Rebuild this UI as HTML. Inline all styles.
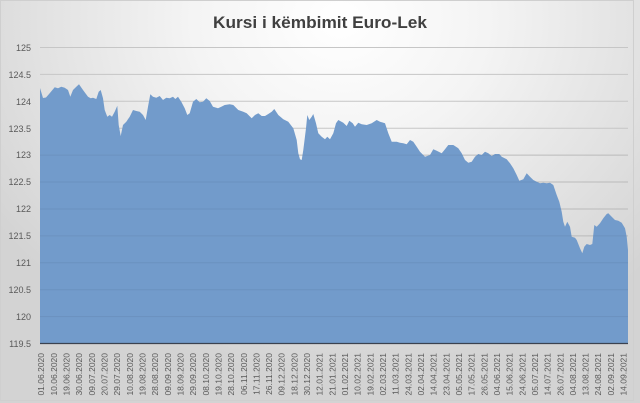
<!DOCTYPE html>
<html><head><meta charset="utf-8">
<style>
html,body{margin:0;padding:0;width:640px;height:403px;overflow:hidden;background:#fff}
svg{display:block}
</style></head>
<body>
<svg width="640" height="403" viewBox="0 0 640 403" xmlns="http://www.w3.org/2000/svg">
<defs>
<radialGradient id="bg" cx="340" cy="20" r="420" gradientUnits="userSpaceOnUse" gradientTransform="translate(340 20) scale(1 0.85) translate(-340 -20)">
<stop offset="0" stop-color="#ffffff"/>
<stop offset="0.35" stop-color="#f4f4f4"/>
<stop offset="0.75" stop-color="#e0e0e0"/>
<stop offset="1" stop-color="#d3d3d3"/>
</radialGradient>
</defs>
<rect x="0" y="0" width="640" height="403" fill="url(#bg)"/>
<rect x="0.5" y="0.5" width="633" height="400" fill="none" stroke="#cfcfcf" stroke-width="1"/>
<text x="320" y="28" text-anchor="middle" font-family="Liberation Sans, sans-serif" font-weight="bold" font-size="17" fill="#404040" textLength="214" lengthAdjust="spacingAndGlyphs">Kursi i këmbimit Euro-Lek</text>
<g stroke="#c6c6c6" stroke-width="1">
<line x1="40" x2="628" y1="47.5" y2="47.5"/>
<line x1="40" x2="628" y1="74.4" y2="74.4"/>
<line x1="40" x2="628" y1="101.3" y2="101.3"/>
<line x1="40" x2="628" y1="128.2" y2="128.2"/>
<line x1="40" x2="628" y1="155.1" y2="155.1"/>
<line x1="40" x2="628" y1="182" y2="182"/>
<line x1="40" x2="628" y1="209" y2="209"/>
<line x1="40" x2="628" y1="235.9" y2="235.9"/>
<line x1="40" x2="628" y1="262.8" y2="262.8"/>
<line x1="40" x2="628" y1="289.7" y2="289.7"/>
<line x1="40" x2="628" y1="316.6" y2="316.6"/>
</g>
<path fill="#729bcb" d="M40,88 L43,98 46,97.5 49.7,93.3 54.7,87.3 58,88.3 61.3,86.7 64.7,87.7 68,90 70.3,96.7 73,90 76.3,86.7 79,84.3 83,90 88,96.7 90.7,98.3 93,97.7 96.3,99 98.7,91.7 100.7,90 103,98.3 104.7,110 107.3,116.7 109.7,115 112,116.7 114.7,111.7 117.3,105.7 118.7,125 120.7,136 123,125 126.3,121.7 129.7,116.7 133,110 136.3,111 139.7,111.7 143,115 145.7,120 148,106.7 150.3,94.3 153,96.7 156.3,97.7 159.7,96 163,100 166.3,97.7 169.7,98.3 173,96.7 175.3,99 178,96.7 181.3,101.7 184.7,108.3 187.3,115 189.7,113.3 193,101.7 196.3,99 199.7,102.3 203,101.7 206.3,98.3 209.7,101 213,106.7 218,108.3 221.3,106.7 224.7,105 229.7,104.3 233.3,105 238.3,110 243.3,111.7 246.7,113.3 251.7,118.3 255,115 258.3,113.3 261.7,116 265,116 268.3,114 271.7,111.7 274.3,109 278.3,115 283.3,119.3 288.3,121.7 293.3,128.3 296.7,140 298.3,153.3 300,159.3 301.7,160 303.3,150 306,128.3 307.3,115 309.3,120 311.7,116.7 313.3,114 316,123.3 318.3,133.3 321.7,136.7 325,139.3 327.3,136.7 330,139.3 333.3,133.3 336,123.3 338.3,120 343.3,122.7 346.7,126 349.3,120.7 352.7,123.3 355,126.7 358.3,122.7 361.7,124.3 366.7,125 371.7,123.3 376.7,120 380,121.7 385,123.3 388.3,133.3 391.7,141.7 396.7,141.7 400,142.7 403.3,143.3 406.7,144.3 410,140 413.3,141.7 416.7,146.7 420,151.7 425,156.7 430,155 433.3,149.3 436.7,150.7 441.7,153.3 445,149.3 448.3,145 453.3,145 458.3,148.3 461.7,153.3 465,160 468.3,162.7 471.7,161.7 475,156.7 478.3,154 481.7,155 485,151.7 488.3,153.3 491.7,156 495,154 499.3,154 501.7,156.7 506.7,159.3 510,163.3 513.3,168.3 516.7,175 519.3,180.7 523.3,179.3 526.7,173.3 530,176.7 533.3,180 536.7,181.7 540,183.3 543.3,182.7 546.7,183.3 550,182.7 553.3,185 556.7,195 559.3,201.7 561.7,211.7 563.3,221.7 565,226.7 567.3,221.7 570,226.7 571.7,236.7 575,237.7 576.7,240 580,248.3 582.3,253.3 584.3,246.7 586.7,244 590,245 592.3,244 594.3,225 596.7,226.7 600,223.3 603.3,218.3 606.7,214 608.3,213.3 611.7,216.7 615,220 618.3,220.7 621.7,222.7 625,228.3 626.7,236.7 628,250 L628,343 L40,343 Z"/>
<g stroke="#000" stroke-opacity="0.06" stroke-width="1">
<line x1="40" x2="628" y1="155.1" y2="155.1"/>
<line x1="40" x2="628" y1="182" y2="182"/>
<line x1="40" x2="628" y1="209" y2="209"/>
<line x1="40" x2="628" y1="235.9" y2="235.9"/>
<line x1="40" x2="628" y1="262.8" y2="262.8"/>
<line x1="40" x2="628" y1="289.7" y2="289.7"/>
<line x1="40" x2="628" y1="316.6" y2="316.6"/>
</g>
<line x1="40" x2="628" y1="343.5" y2="343.5" stroke="#3a4250" stroke-width="1.3"/>
<g font-family="Liberation Sans, sans-serif" font-size="9" fill="#595959" text-anchor="end">
<text x="31" y="51">125</text>
<text x="31" y="78">124.5</text>
<text x="31" y="105">124</text>
<text x="31" y="132">123.5</text>
<text x="31" y="158">123</text>
<text x="31" y="185">122.5</text>
<text x="31" y="212">122</text>
<text x="31" y="239">121.5</text>
<text x="31" y="266">121</text>
<text x="31" y="293">120.5</text>
<text x="31" y="320">120</text>
<text x="31" y="347">119.5</text>
</g>
<g font-family="Liberation Sans, sans-serif" font-size="8.5" fill="#595959" text-anchor="end">
<text transform="translate(44.2,353) rotate(-90)">01.06.2020</text>
<text transform="translate(56.9,353) rotate(-90)">10.06.2020</text>
<text transform="translate(69.5,353) rotate(-90)">19.06.2020</text>
<text transform="translate(82.2,353) rotate(-90)">30.06.2020</text>
<text transform="translate(94.8,353) rotate(-90)">09.07.2020</text>
<text transform="translate(107.5,353) rotate(-90)">20.07.2020</text>
<text transform="translate(120.2,353) rotate(-90)">29.07.2020</text>
<text transform="translate(132.8,353) rotate(-90)">10.08.2020</text>
<text transform="translate(145.5,353) rotate(-90)">19.08.2020</text>
<text transform="translate(158.1,353) rotate(-90)">28.08.2020</text>
<text transform="translate(170.8,353) rotate(-90)">09.09.2020</text>
<text transform="translate(183.5,353) rotate(-90)">18.09.2020</text>
<text transform="translate(196.1,353) rotate(-90)">29.09.2020</text>
<text transform="translate(208.8,353) rotate(-90)">08.10.2020</text>
<text transform="translate(221.4,353) rotate(-90)">19.10.2020</text>
<text transform="translate(234.1,353) rotate(-90)">28.10.2020</text>
<text transform="translate(246.8,353) rotate(-90)">06.11.2020</text>
<text transform="translate(259.4,353) rotate(-90)">17.11.2020</text>
<text transform="translate(272.1,353) rotate(-90)">26.11.2020</text>
<text transform="translate(284.7,353) rotate(-90)">09.12.2020</text>
<text transform="translate(297.4,353) rotate(-90)">18.12.2020</text>
<text transform="translate(310.1,353) rotate(-90)">30.12.2020</text>
<text transform="translate(322.7,353) rotate(-90)">12.01.2021</text>
<text transform="translate(335.4,353) rotate(-90)">21.01.2021</text>
<text transform="translate(348,353) rotate(-90)">01.02.2021</text>
<text transform="translate(360.7,353) rotate(-90)">10.02.2021</text>
<text transform="translate(373.4,353) rotate(-90)">19.02.2021</text>
<text transform="translate(386,353) rotate(-90)">02.03.2021</text>
<text transform="translate(398.7,353) rotate(-90)">11.03.2021</text>
<text transform="translate(411.3,353) rotate(-90)">24.03.2021</text>
<text transform="translate(424,353) rotate(-90)">02.04.2021</text>
<text transform="translate(436.7,353) rotate(-90)">14.04.2021</text>
<text transform="translate(449.3,353) rotate(-90)">23.04.2021</text>
<text transform="translate(462,353) rotate(-90)">05.05.2021</text>
<text transform="translate(474.6,353) rotate(-90)">17.05.2021</text>
<text transform="translate(487.3,353) rotate(-90)">26.05.2021</text>
<text transform="translate(500,353) rotate(-90)">04.06.2021</text>
<text transform="translate(512.6,353) rotate(-90)">15.06.2021</text>
<text transform="translate(525.3,353) rotate(-90)">24.06.2021</text>
<text transform="translate(537.9,353) rotate(-90)">05.07.2021</text>
<text transform="translate(550.6,353) rotate(-90)">14.07.2021</text>
<text transform="translate(563.3,353) rotate(-90)">26.07.2021</text>
<text transform="translate(575.9,353) rotate(-90)">04.08.2021</text>
<text transform="translate(588.6,353) rotate(-90)">13.08.2021</text>
<text transform="translate(601.2,353) rotate(-90)">24.08.2021</text>
<text transform="translate(613.9,353) rotate(-90)">02.09.2021</text>
<text transform="translate(626.5,353) rotate(-90)">14.09.2021</text>
</g>
</svg>
</body></html>
